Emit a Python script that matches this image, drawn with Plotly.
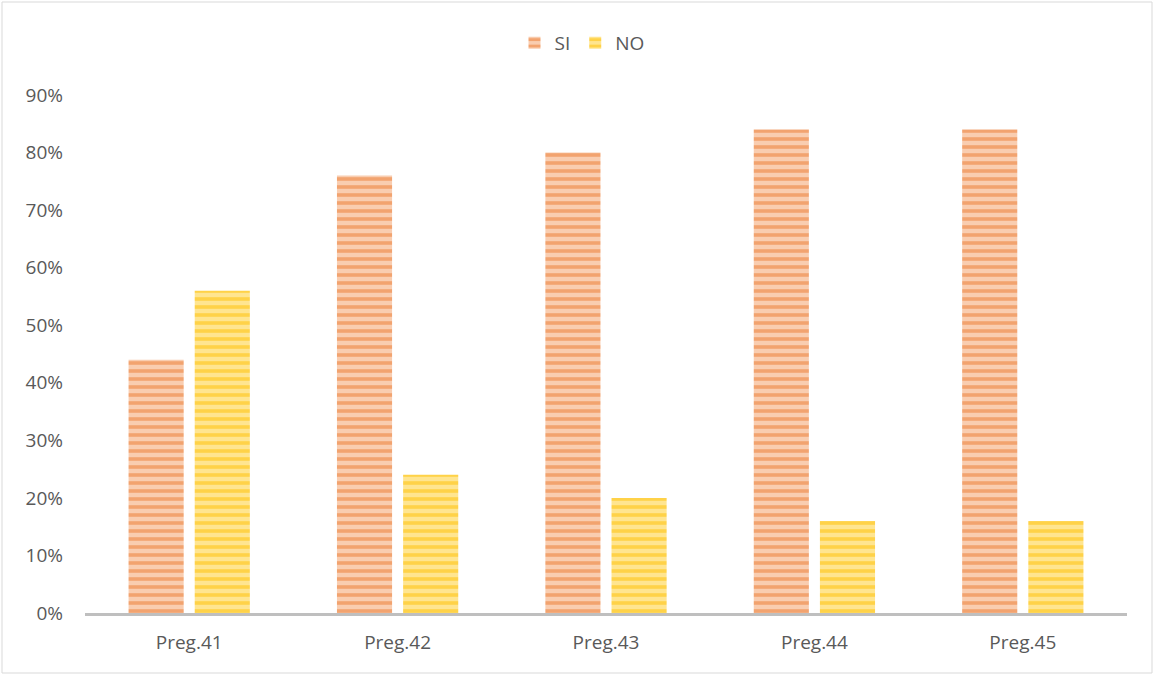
import plotly.graph_objects as go

# Survey answers per question (share of respondents)
categories = ["Preg.41", "Preg.42", "Preg.43", "Preg.44", "Preg.45"]
si_values = [0.44, 0.76, 0.80, 0.84, 0.84]
no_values = [0.56, 0.24, 0.20, 0.16, 0.16]
y_ticks = [0, 0.1, 0.2, 0.3, 0.4, 0.5, 0.6, 0.7, 0.8, 0.9]

W, H = 1154, 675
ml, mr, mt, mb = 85, 27, 95, 62

fig = go.Figure()
fig.add_trace(go.Bar(
    name="SI", x=categories, y=si_values,
    marker=dict(color="#F09458", line=dict(width=0),
                pattern=dict(shape="-", fgcolor="#EC7A2E", bgcolor="#F9CDB0",
                             size=8, solidity=0.45)),
))
fig.add_trace(go.Bar(
    name="NO", x=categories, y=no_values,
    marker=dict(color="#FFC926", line=dict(width=0),
                pattern=dict(shape="-", fgcolor="#FFC000", bgcolor="#FFE590",
                             size=8, solidity=0.45)),
))

pw = W - ml - mr
ph = H - mt - mb
fig.add_shape(type="rect", xref="paper", yref="paper",
              x0=(2 - ml) / pw, x1=(W - 2 - ml) / pw,
              y0=(H - mb - (H - 2)) / ph, y1=(H - mb - 2) / ph,
              line=dict(color="#D9D9D9", width=1), layer="below")

fig.update_layout(
    width=W, height=H,
    margin=dict(l=ml, r=mr, t=mt, b=mb),
    paper_bgcolor="white", plot_bgcolor="white",
    barmode="group", bargap=0.365, bargroupgap=0.167,
    font=dict(family="Open Sans, Liberation Sans, sans-serif", size=19, color="#595959"),
    legend=dict(orientation="h", x=(582 - ml) / pw, xanchor="center",
                y=1.0 + (95 - 43) / ph, yanchor="middle",
                font=dict(size=19, color="#595959"),
                itemwidth=30, traceorder="normal"),
    xaxis=dict(showline=True, linecolor="#BFBFBF", linewidth=3, ticks="",
               showgrid=False, tickfont=dict(size=19, color="#595959"),
               ticklabelstandoff=10),
    yaxis=dict(range=[0, 0.9], tickvals=y_ticks, tickformat=".0%",
               showgrid=False, zeroline=False, showline=False, ticks="",
               tickfont=dict(size=19, color="#595959"), ticklabelstandoff=21),
)

fig.write_html("out.html")
